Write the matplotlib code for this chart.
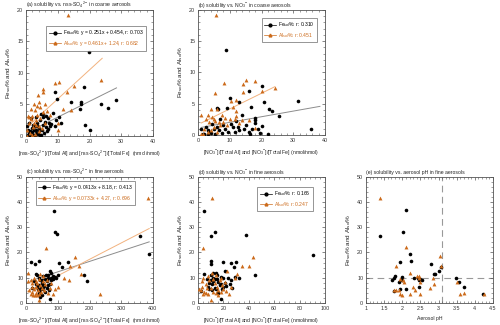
import numpy as np
import matplotlib.pyplot as plt
from matplotlib.ticker import MultipleLocator, AutoMinorLocator

# ---- data ----
# (a) coarse, nss-SO4 ratio
fe_a_x = [0.5, 0.8, 1.0, 1.2, 1.5, 1.8, 2.0, 2.2, 2.5, 2.8, 3.0, 3.2, 3.5, 3.8, 4.0, 4.2, 4.5, 4.8,
          5.0, 5.2, 5.5, 5.8, 6.0, 6.2, 6.5, 6.8, 7.0, 7.5, 8.0, 8.4, 9.0, 9.5, 10.5, 11.0, 0.3, 1.0,
          1.5, 2.3, 3.3, 4.6, 5.5, 6.3, 7.2, 2.7, 0.6, 1.3, 3.6, 4.3,
          19.7, 18.3, 9.2, 9.7, 14.1, 17.4, 17.4, 17.1, 23.5, 25.7, 28.2, 18.5, 20.0]
fe_a_y = [0.2, 0.5, 0.1, 0.8, 0.3, 1.2, 0.6, 0.2, 1.0, 1.5, 0.4, 0.9, 2.0, 0.3, 1.3, 0.7, 2.5, 0.2,
          1.0, 1.8, 3.0, 0.5, 2.2, 1.4, 0.8, 2.8, 1.1, 1.6, 1.9, 3.7, 1.5, 2.5, 3.0, 2.0, 1.5, 2.0,
          2.8, 1.8, 3.0, 3.4, 3.5, 3.2, 2.0, 0.1, 0.9, 0.0, 1.6, 0.1,
          13.3, 7.7, 7.0, 5.8, 5.3, 5.4, 5.0, 4.3, 5.1, 4.4, 5.7, 1.8, 0.85]
al_a_x = [13.2, 9.2, 10.5, 15.1, 12.8, 5.3, 5.3, 23.6, 11.6, 14.2, 10.0, 10.0, 4.2, 1.6, 3.5, 2.8,
          4.5, 0.5, 1.0, 1.5, 2.0, 2.5, 3.0, 3.5, 4.0, 4.5, 5.0, 5.5, 6.0, 0.3, 0.8, 1.2, 2.2, 2.8,
          3.3, 4.2, 1.8, 0.2, 6.5, 7.5, 6.0, 3.8, 2.5]
al_a_y = [19.1, 8.4, 8.6, 7.9, 6.9, 7.5, 6.9, 8.8, 4.3, 4.1, 2.0, 1.0, 5.4, 4.3, 4.8, 4.1,
          4.5, 3.2, 3.0, 2.6, 3.1, 2.0, 2.5, 3.3, 1.5, 2.8, 1.2, 3.8, 2.0, 1.0, 2.0, 0.5, 1.4, 0.3,
          1.8, 0.8, 0.1, 0.0, 4.0, 3.3, 5.0, 6.5, 5.0]

# (b) coarse, NO3 ratio
fe_b_x = [8.9, 16.0, 20.2, 10.0, 6.0, 6.3, 9.0, 12.8, 20.7, 16.8, 22.4, 23.4, 31.6, 35.5, 25.6, 18.1,
          18.0, 18.0, 22.1, 14.0, 12.0, 11.0, 13.0, 15.0, 16.0, 17.0, 19.0, 8.0, 7.0, 5.0, 4.0,
          3.0, 2.0, 1.0, 1.5, 2.5, 3.5, 4.5, 5.5, 6.5, 7.5, 8.5, 9.5, 10.5, 11.5, 12.5, 14.5,
          16.5, 19.5, 3.0, 6.0, 20.0]
fe_b_y = [13.5, 7.0, 7.8, 5.9, 4.3, 4.1, 4.3, 5.3, 5.3, 4.4, 4.1, 3.8, 5.4, 0.9, 3.0, 2.7,
          2.3, 1.9, 0.15, 3.2, 2.2, 1.2, 0.7, 1.6, 0.4, 1.0, 0.9, 1.5, 2.5, 1.0, 0.3,
          0.8, 0.2, 0.9, 0.1, 1.3, 0.5, 1.8, 0.2, 0.7, 0.3, 1.0, 0.5, 1.7, 0.4, 1.3, 0.9,
          0.1, 0.3, 0.2, 1.2, 1.4]
al_b_x = [5.8, 8.1, 15.2, 17.9, 14.2, 14.1, 20.3, 24.2, 5.5, 10.5, 12.1, 11.0, 12.0, 12.0, 11.5,
          14.0, 18.0, 4.0, 6.0, 3.0, 1.0, 2.5, 3.5, 4.5, 5.0, 5.5, 6.5, 7.0, 8.0, 8.5, 7.5, 2.0,
          3.0, 1.0, 1.5, 4.0, 5.0, 6.0, 9.0, 10.0, 13.0, 16.0]
al_b_y = [19.2, 8.3, 8.8, 8.6, 8.1, 6.9, 7.0, 7.5, 6.7, 5.4, 5.6, 4.4, 3.8, 3.0, 2.5,
          2.4, 1.1, 4.2, 4.2, 3.2, 3.2, 2.5, 2.0, 2.8, 2.6, 2.2, 2.0, 1.5, 2.0, 2.7, 3.2, 1.0,
          0.5, 0.1, 0.2, 0.7, 1.3, 0.5, 1.5, 2.6, 1.9, 2.3]

# (c) fine, nss-SO4 ratio
fe_c_x = [89, 90, 97, 358, 388, 15, 40, 27, 105, 132, 112, 183, 193, 75,
          30, 35, 40, 45, 50, 55, 60, 65, 70, 75, 80, 85, 90, 95, 100, 20, 25, 30, 35, 38, 42,
          45, 48, 50, 52, 55, 58, 60, 65, 70, 75, 80, 85, 40, 45, 50, 62, 68, 72, 78]
fe_c_y = [36.6, 28.2, 27.3, 26.6, 19.3, 16.2, 16.8, 15.6, 15.8, 16.4, 14.4, 10.9, 8.6, 1.5,
          11.5, 11.0, 10.0, 9.0, 8.0, 10.5, 9.5, 8.5, 11.0, 12.6, 10.0, 9.5, 10.3, 10.0, 11.0,
          6.0, 8.5, 7.5, 6.5, 5.5, 4.0, 5.0, 6.0, 3.0, 7.0, 5.5, 6.8, 4.5, 6.0, 7.0, 7.5, 12.0,
          10.8, 7.0, 2.5, 9.0, 11.2, 9.8, 5.0, 9.0]
al_c_x = [383, 62, 153, 168, 139, 173, 120, 135, 101, 232, 5, 40, 7,
          10, 15, 20, 25, 28, 30, 32, 35, 38, 40, 42, 45, 48, 50, 52, 55, 58, 60, 65, 70, 75,
          80, 85, 90, 25, 30, 20, 18, 22, 35, 45, 15]
al_c_y = [41.5, 21.8, 18.2, 14.6, 14.5, 11.6, 9.7, 9.2, 6.4, 3.7, 12.0, 1.1, 8.8,
          5.0, 3.5, 4.5, 5.5, 3.0, 6.5, 4.0, 8.0, 5.0, 9.5, 3.5, 7.0, 4.5, 6.0, 10.5, 8.5,
          5.0, 7.5, 9.0, 4.0, 6.0, 8.0, 3.5, 5.5, 10.0, 8.8, 7.8, 6.2, 3.2, 3.2, 11.5, 9.0]

# (d) fine, NO3 ratio
fe_d_x = [5, 13.1, 10, 37.5, 90.5, 10.5, 10.5, 19.7, 26, 29.7, 28.6, 44.6, 21.5, 32.5, 17.8,
          29, 27, 26, 2, 5, 7, 8, 9, 10, 11, 12, 13, 14, 15, 16, 17, 18, 19, 20, 21, 22, 24, 25,
          12, 14, 16, 15, 11, 13, 18, 20, 9, 10, 12]
fe_d_y = [36.6, 28.2, 26.5, 27.1, 19.0, 16.6, 15.3, 16.2, 15.7, 16.4, 14.1, 10.9, 12.6, 9.7,
          1.5, 10.3, 5.8, 9.0, 4.8, 11.5, 9.3, 6.5, 8.0, 9.0, 7.5, 10.0, 6.0, 11.8, 9.5, 8.2,
          7.0, 10.2, 5.5, 9.8, 8.0, 6.8, 10.0, 7.5, 12.0, 5.5, 4.0, 11.0, 5.0, 9.3, 7.5, 6.5,
          5.5, 11.0, 8.5]
al_d_x = [11, 4, 43.6, 35, 40, 31, 23, 29.4, 25.7, 24.7, 10.2, 3.9,
          1, 2, 3, 4, 5, 6, 7, 8, 9, 10, 11, 12, 13, 14, 15, 16, 17, 18, 19, 20, 21, 8, 6, 12,
          14, 16, 3, 18, 22]
al_d_y = [41.5, 21.8, 18.2, 14.6, 14.5, 11.6, 12.5, 9.7, 6.4, 3.7, 1.1, 9.8,
          5.5, 5.0, 6.5, 3.5, 4.2, 7.5, 5.8, 3.5, 9.2, 6.0, 12.0, 4.5, 8.0, 3.8, 6.5, 5.0,
          9.0, 4.2, 7.0, 5.5, 8.2, 10.5, 4.0, 9.5, 11.2, 3.2, 8.5, 9.8, 4.8]

# (e) fine, aerosol pH
fe_e_x = [1.38, 2.10, 2.03, 1.94, 2.21, 2.23, 2.78, 2.88, 2.91, 3.00, 3.08, 3.49, 3.57, 3.70,
          4.23, 1.81, 1.77, 1.77, 1.90, 1.95, 2.00, 2.10, 2.31, 2.43, 2.46, 2.50, 2.55, 2.47,
          1.72, 1.98]
fe_e_y = [26.6, 36.8, 28.3, 16.3, 19.2, 16.7, 15.6, 11.6, 11.6, 12.8, 14.2, 9.9, 8.2, 6.5,
          3.6, 10.6, 9.7, 4.9, 8.1, 5.7, 10.3, 5.7, 9.7, 9.9, 9.0, 9.3, 9.0, 6.2,
          9.2, 9.0]
al_e_x = [1.38, 2.11, 1.82, 3.03, 3.08, 2.20, 2.06, 1.95, 2.02, 1.90, 1.78, 1.82, 1.95, 1.98,
          2.20, 2.50, 2.35, 2.45, 2.47, 2.48, 2.40, 2.75, 2.87, 2.85, 3.50, 3.58, 3.70, 2.30, 4.25]
al_e_y = [41.5, 22.0, 14.7, 18.4, 14.8, 11.8, 8.1, 9.6, 9.2, 5.2, 5.2, 5.0, 3.6, 3.3,
          3.6, 3.5, 5.0, 10.5, 9.8, 8.4, 10.8, 6.1, 7.6, 9.8, 8.3, 3.6, 4.1, 6.5, 3.6]

# fitted lines: (slope, intercept, x start, x end)
fit_fe_a, fit_al_a = (0.251, 0.454, 0.3, 28.5), (0.461, 1.24, 0.2, 24.0)
fit_fe_b, fit_al_b = (0.09, 1.1, 1.0, 38.4), (0.25, 1.65, 1.0, 24.2)
fit_fe_c, fit_al_c = (0.0413, 8.18, 15, 388), (0.065, 4.27, 5, 388)

FE_C = "black"
AL_C = "#cc6a1a"
FE_FIT = "#8c8c8c"
AL_FIT = "#f2b27e"
FRAME = "#555555"
TXT = "#222222"

plt.rcParams["font.family"] = ["Liberation Sans", "DejaVu Sans"]
plt.rcParams["mathtext.fontset"] = "custom"
plt.rcParams["mathtext.rm"] = "Liberation Sans"
plt.rcParams["mathtext.it"] = "Liberation Sans:italic"
plt.rcParams["mathtext.default"] = "regular"

fig = plt.figure(figsize=(5, 3.25), dpi=100)
W, H = 0.254, 0.388
ax_a = fig.add_axes([0.052, 0.582, W, H])
ax_b = fig.add_axes([0.396, 0.585, W, H - 0.003])
ax_c = fig.add_axes([0.052, 0.068, W, H])
ax_d = fig.add_axes([0.396, 0.068, W, H])
ax_e = fig.add_axes([0.732, 0.068, W, H])

so4 = "[nss-SO$_4$$^{2-}$]"
no3 = "[NO$_3$$^{-}$]"
ylab = "Fe$_{sol}$% and Al$_{sol}$%"


def style(ax, xlim, ylim, xstep, ystep, title, xlabel):
    ax.set_xlim(*xlim)
    ax.set_ylim(*ylim)
    ax.xaxis.set_major_locator(MultipleLocator(xstep))
    ax.yaxis.set_major_locator(MultipleLocator(ystep))
    ax.xaxis.set_minor_locator(AutoMinorLocator(5))
    ax.yaxis.set_minor_locator(AutoMinorLocator(5))
    ax.tick_params(which="both", direction="in", top=True, right=True,
                   colors=FRAME, labelcolor="#333333", labelsize=3.9, pad=2)
    ax.tick_params(which="major", length=2.5, width=0.5)
    ax.tick_params(which="minor", length=1.3, width=0.4)
    for s in ax.spines.values():
        s.set_color(FRAME)
        s.set_linewidth(0.6)
    ax.set_title(title, loc="left", fontsize=3.7, pad=2, color=TXT)
    ax.set_xlabel(xlabel, fontsize=3.7, labelpad=3.5, color=TXT)
    ax.set_ylabel(ylab, fontsize=4.6, labelpad=3, color=TXT)


def scatter(ax, fx, fy, ax_, ay):
    ax.plot(fx, fy, ls="none", marker="o", ms=2.6, color=FE_C, mew=0, zorder=3)
    ax.plot(ax_, ay, ls="none", marker="^", ms=2.8, color=AL_C, mew=0, zorder=3)


def fit(ax, p, color):
    xs = np.array([p[2], p[3]])
    ax.plot(xs, p[0] * xs + p[1], color=color, lw=0.7, zorder=2)


def legend(ax, fe_text, al_text, anchor):
    h_fe = ax.plot([], [], color="black", lw=0.5, marker="o", ms=2.0)[0]
    h_al = ax.plot([], [], color=AL_C, lw=0.5, marker="^", ms=2.0)[0]
    leg = ax.legend([h_fe, h_al], [fe_text, al_text], loc="upper right",
                    bbox_to_anchor=anchor, fontsize=3.6, frameon=True,
                    fancybox=False, handlelength=2.4, handletextpad=0.4,
                    borderpad=0.5, labelspacing=0.35, borderaxespad=0)
    leg.get_frame().set_edgecolor("#666666")
    leg.get_frame().set_linewidth(0.6)
    leg.get_texts()[1].set_color(AL_C)


# (a)
fit(ax_a, fit_fe_a, FE_FIT)
fit(ax_a, fit_al_a, AL_FIT)
scatter(ax_a, fe_a_x, fe_a_y, al_a_x, al_a_y)
style(ax_a, (0, 40), (0, 20), 10, 5,
      "(a) solubility vs. nss-SO$_4$$^{2-}$ in coarse aerosols",
      so4 + "/[Total Al] and " + so4 + "/[Total Fe]  (nmol/nmol)")
legend(ax_a, "Fe$_{sol}$%: y = 0.251x + 0.454, r: 0.703",
       "Al$_{sol}$%: y = 0.461x + 1.24, r: 0.682", (0.945, 0.873))

# (b)
fit(ax_b, fit_fe_b, FE_FIT)
fit(ax_b, fit_al_b, AL_FIT)
scatter(ax_b, fe_b_x, fe_b_y, al_b_x, al_b_y)
style(ax_b, (0, 40), (0, 20), 10, 5,
      "(b) solubility vs. NO$_3$$^{-}$ in coarse aerosols",
      no3 + "/[Total Al] and " + no3 + "/[Total Fe] (nmol/nmol)")
legend(ax_b, "Fe$_{sol}$%: r: 0.310", "Al$_{sol}$%: r: 0.451", (0.94, 0.936))

# (c)
fit(ax_c, fit_fe_c, FE_FIT)
fit(ax_c, fit_al_c, AL_FIT)
scatter(ax_c, fe_c_x, fe_c_y, al_c_x, al_c_y)
style(ax_c, (0, 400), (0, 50), 100, 10,
      "(c) solubility vs. nss-SO$_4$$^{2-}$ in fine aerosols",
      so4 + "/[Total Al] and " + so4 + "/[Total Fe]  (nmol/nmol)")
legend(ax_c, "Fe$_{sol}$%: y = 0.0413x + 8.18, r: 0.413",
       "Al$_{sol}$%: y = 0.0733x + 4.27, r: 0.696", (0.86, 0.97))

# (d)
scatter(ax_d, fe_d_x, fe_d_y, al_d_x, al_d_y)
style(ax_d, (0, 100), (0, 50), 20, 10,
      "(d) solubility vs. NO$_3$$^{-}$ in fine aerosols",
      no3 + "/[Total Al] and " + no3 + "/[Total Fe] (nmol/nmol)")
legend(ax_d, "Fe$_{sol}$%: r: 0.166", "Al$_{sol}$%: r: 0.247", (0.905, 0.92))

# (e)
ax_e.axvline(3.1, color="#999999", lw=0.8, ls=(0, (6, 4)), zorder=1)
ax_e.axhline(10, color="#999999", lw=0.8, ls=(0, (6, 4)), zorder=1)
scatter(ax_e, fe_e_x, fe_e_y, al_e_x, al_e_y)
style(ax_e, (1, 4.5), (0, 50), 0.5, 10,
      "(e) solubility vs. aerosol pH in fine aerosols", "Aerosol pH")
ax_e.xaxis.set_major_formatter(plt.FuncFormatter(lambda v, p: f"{v:g}"))

fig.savefig("out.png", dpi=100)
